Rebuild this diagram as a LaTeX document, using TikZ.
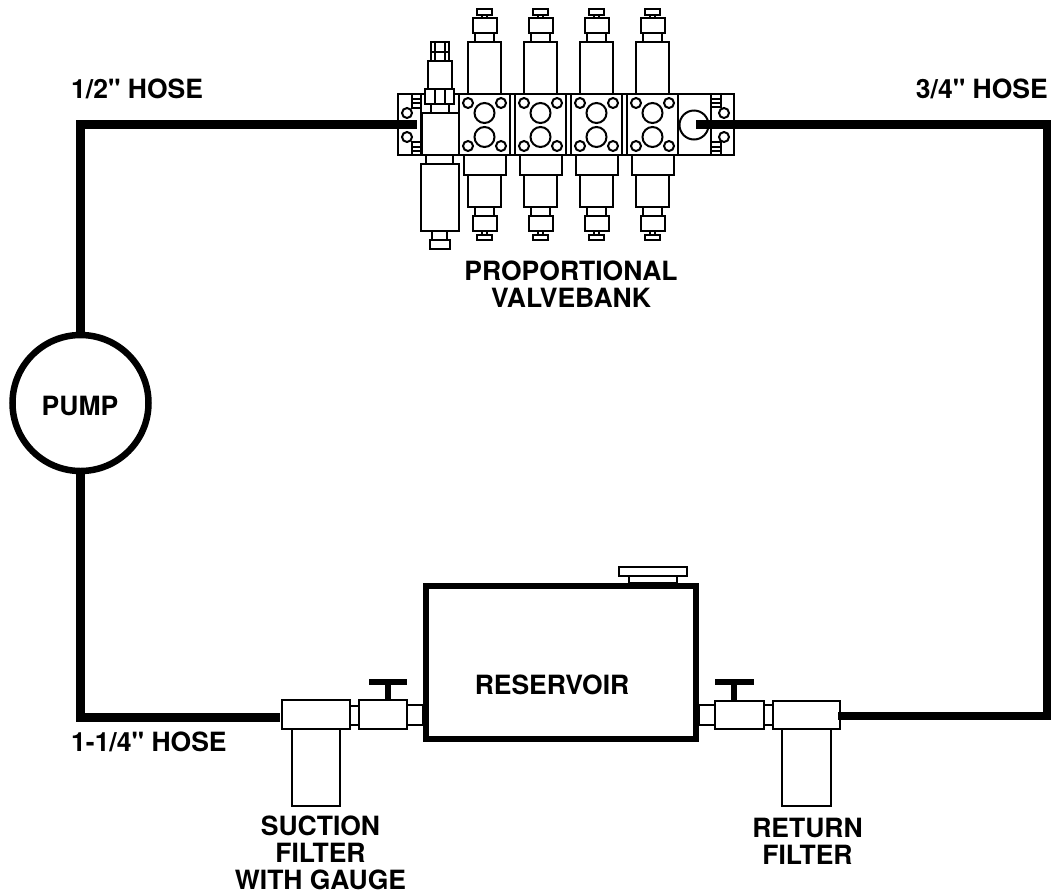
\documentclass[tikz,border=0pt]{standalone}
\usepackage{fontspec}
\newfontfamily\heros{TeX Gyre Heros}
\usetikzlibrary{calc}

\begin{document}
\begin{tikzpicture}[x=1pt, y=-1pt,
    hose/.style={line width=8.5pt},
    part/.style={line width=2pt},
    partbox/.style={draw, line width=2pt, fill=white, rectangle, inner sep=0pt, minimum width=#1},
    partbox/.default=40pt,
    label/.style={font=\heros\bfseries\fontsize{26.5}{27}\selectfont, align=center, inner sep=0pt},
    section/.pic={
        % upper stem
        \draw[part] (-16.5, 94) rectangle (16.5, 42);
        \draw[part] (-10, 42) rectangle (9, 33);
        \draw[part] (-12, 33) rectangle (12, 18);
        \draw[part] (-2.5, 18) rectangle (2.5, 15);
        \draw[part] (-7.5, 15) rectangle (7.5, 9);
        % lower stem
        \draw[part] (-21, 155) rectangle (21, 175);
        \draw[part] (-16.5, 175) rectangle (16.5, 207);
        \draw[part] (-10, 207) rectangle (9, 216);
        \draw[part] (-12, 216) rectangle (12, 231);
        \draw[part] (-2.5, 231) rectangle (2.5, 235);
        \draw[part] (-7.5, 235) rectangle (7.5, 240);
        % body
        \draw[part] (-25.5, 94) rectangle (25.5, 155);
        \draw[part] (0, 113) circle (10);
        \draw[part] (0, 137) circle (10);
        \draw[part] (-16.5, 103) circle (5);
        \draw[part] (16.5, 103) circle (5);
        \draw[part] (-16.5, 146) circle (5);
        \draw[part] (16.5, 146) circle (5);
    }]
    \useasboundingbox (0, 0) rectangle (1051, 892);

    % valve bank
    \draw[part] (398, 94) rectangle (734, 155);
    \begin{scope}[xshift=484.5pt] \pic {section}; \end{scope}
    \begin{scope}[xshift=540.5pt] \pic {section}; \end{scope}
    \begin{scope}[xshift=596.5pt] \pic {section}; \end{scope}
    \begin{scope}[xshift=652.5pt] \pic {section}; \end{scope}

    % inlet end of the bank
    \draw[part] (421, 94) -- (421, 155);
    \draw[part] (412, 94) rectangle (421, 108);
    \draw[part] (412, 142) rectangle (421, 155);
    \draw[part] (412, 98.5) -- (421, 98.5) (412, 103) -- (421, 103);
    \draw[part] (412, 146.5) -- (421, 146.5) (412, 151) -- (421, 151);
    \draw[part] (407, 113) circle (5);
    \draw[part] (407, 137) circle (5);
    \draw[part] (422, 113) rectangle (459, 155);
    \draw[part] (431, 104) rectangle (449, 113);
    \draw[part, fill=white] (425, 89) rectangle (454, 104);
    \draw[part] (435, 89) -- (435, 104) (445, 89) -- (445, 104);
    \draw[part] (428, 61) rectangle (452, 89);
    \draw[part] (431, 42) rectangle (449, 61);
    \draw[part] (435, 42) -- (435, 61) (445, 42) -- (445, 61) (431, 52) -- (449, 52);
    \draw[part] (426, 155) rectangle (453, 164);
    \draw[part] (421, 164) rectangle (459, 231);
    \draw[part] (432, 231) rectangle (447, 240);
    \draw[part] (430, 240) rectangle (450, 249);

    % outlet end of the bank
    \draw[part] (678, 94) -- (678, 155);
    \draw[part] (694, 125) circle (14.5);
    \draw[part] (711, 94) -- (711, 155);
    \draw[part] (711, 94) rectangle (721, 107);
    \draw[part] (711, 142) rectangle (721, 155);
    \draw[part] (711, 98.5) -- (721, 98.5) (711, 103) -- (721, 103);
    \draw[part] (711, 146.5) -- (721, 146.5) (711, 151) -- (721, 151);
    \draw[part] (724, 113) circle (5);
    \draw[part] (724, 137) circle (5);

    % reservoir and its cap
    \node (reservoir) [draw, line width=6pt, rectangle, inner sep=0pt, minimum width=270pt, minimum height=153pt] at (561, 662) {};
    \draw[part] (629, 576) rectangle (677, 583);
    \draw[part] (619, 567) rectangle (687, 576);

    % suction side
    \draw[part] (407, 705) rectangle (423, 725);
    \node (suctionvalve) [partbox=48pt, minimum height=29pt] at (383, 714.5) {};
    \draw[part] (350, 706) rectangle (359, 725);
    \node (suctionhead) [partbox=68pt, minimum height=29pt] at (316, 714.5) {};
    \draw[part] (292, 729) rectangle (340, 806);
    \fill (385, 684) rectangle (391, 700);
    \fill (369, 679) rectangle (407, 684.5);

    % return side
    \draw[part] (699, 705) rectangle (715, 725);
    \node (returnvalve) [partbox=49pt, minimum height=28pt] at (739.5, 715) {};
    \draw[part] (764, 705) rectangle (773, 725);
    \node (returnhead) [partbox=67pt, minimum height=28pt] at (806.5, 715) {};
    \draw[part] (782, 729) rectangle (831, 806);
    \fill (731, 685) rectangle (737, 701);
    \fill (715, 678.5) rectangle (754, 685);

    % pump and hoses
    \node (pump) [draw, line width=6.5pt, circle, inner sep=0pt, minimum size=136pt] at (80.5, 403) {};
    \coordinate (bankin) at (417, 124.5);
    \coordinate (bankout) at (696, 124.5);
    \coordinate (returnend) at (838, 716);
    \coordinate (suctionend) at (280, 717.5);
    \draw[hose] (pump.north) |- (bankin);
    \draw[hose] (pump.south) |- (suctionend);
    \draw[hose] (bankout) -| (1047, 420) |- (returnend);

    % labels
    \node (halfhose) [label, anchor=west] at (71, 89) {1/2" HOSE};
    \node (threehose) [label, anchor=east] at (1048, 88.5) {3/4" HOSE};
    \node (onehose) [label, anchor=west] at (71, 742) {1-1/4" HOSE};
    \node (pumptext) [label] at (80, 405.5) {PUMP};
    \node (reservoirtext) [label] at (552, 684.5) {RESERVOIR};
    \node (banktext) [label] at (571, 284.5) {PROPORTIONAL\\VALVEBANK};
    \node (suctiontext) [label] at (320.5, 853) {SUCTION\\FILTER\\WITH GAUGE};
    \node (returntext) [label] at (807.5, 841) {RETURN\\FILTER};
\end{tikzpicture}
\end{document}
